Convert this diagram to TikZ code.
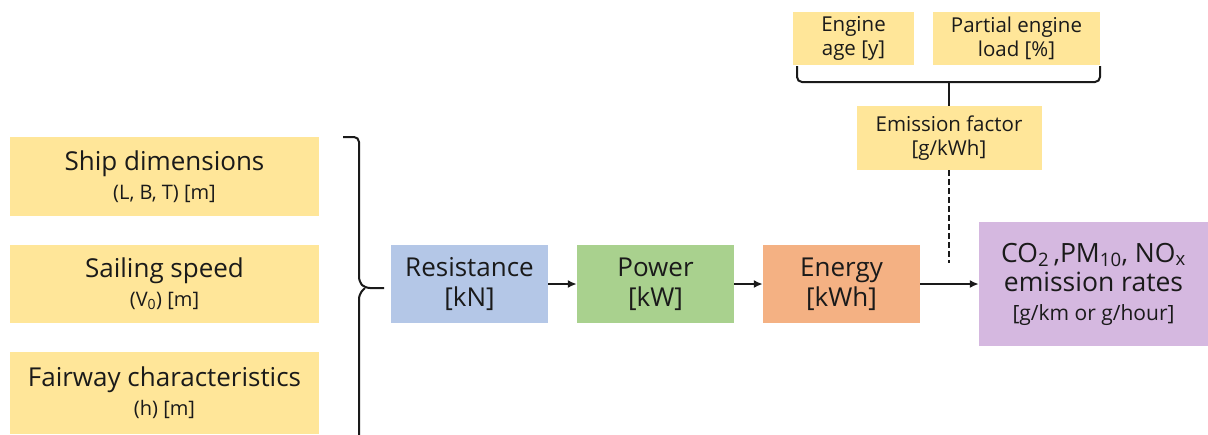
\documentclass[tikz,border=0pt]{standalone}
\usepackage{fontspec}
\setmainfont{Open Sans}
\usetikzlibrary{arrows.meta,positioning,calc}
\definecolor{cInput}{HTML}{FFE699}
\definecolor{cResist}{HTML}{B4C7E7}
\definecolor{cPower}{HTML}{A9D18E}
\definecolor{cEnergy}{HTML}{F4B183}
\definecolor{cEmis}{HTML}{D5B8E0}
\definecolor{cInk}{HTML}{1A1A1A}
\tikzset{
  block/.style={draw=none, align=center, inner sep=2pt, text=cInk},
  input/.style={block, fill=cInput, font=\fontsize{26}{29}\selectfont},
  factor/.style={block, fill=cInput, font=\fontsize{20.5}{24}\selectfont},
  stage/.style={block, font=\fontsize{26}{30}\selectfont, minimum height=78pt},
  flow/.style={-{Latex[length=9pt,width=8pt]}, line width=2pt, draw=cInk},
  bracket/.style={line width=2pt, draw=cInk, rounded corners=5pt},
}
\newcommand{\subtxt}[1]{{\fontsize{20}{23}\selectfont #1}}
\begin{document}
\begin{tikzpicture}[x=1pt, y=-1pt]
  \useasboundingbox (0,0) rectangle (1208,434);
  % inputs on the left
  \node[input, minimum width=309pt, minimum height=79pt] (ship) at (164.5,176.5)
    {Ship dimensions\\\subtxt{(L, B, T) [m]}};
  \node[input, minimum width=309pt, minimum height=78pt] (speed) at (164.5,284)
    {Sailing speed\\\subtxt{(V\textsubscript{0}) [m]}};
  \node[input, minimum width=309pt, minimum height=82pt] (fairway) at (164.5,393)
    {Fairway characteristics\\\subtxt{(h) [m]}};
  % chain of stages
  \node[stage, fill=cResist, minimum width=157pt] (resist) at (469.5,284) {Resistance\\{}[kN]};
  \node[stage, fill=cPower, minimum width=157pt] (power) at (655.5,284) {Power\\{}[kW]};
  \node[stage, fill=cEnergy, minimum width=157pt] (energy) at (841.5,284) {Energy\\{}[kWh]};
  \node[block, fill=cEmis, minimum width=229pt, minimum height=124pt,
    font=\fontsize{26.5}{29}\selectfont] (emis) at (1093.5,284)
    {CO\textsubscript{2}\,,PM\textsubscript{10}, NO\textsubscript{x}\\emission rates\\
     {\fontsize{21}{24}\selectfont [g/km or g/hour]}};
  % emission factor inputs
  \node[factor, minimum width=121pt, minimum height=53pt] (age) at (853.5,38.5) {Engine\\age [y]};
  \node[factor, minimum width=167pt, minimum height=53pt] (load) at (1016.5,38.5) {Partial engine\\load [\%]};
  \node[factor, minimum width=185pt, minimum height=64pt] (fac) at (949,138) {Emission factor\\{}[g/kWh]};
  % brackets
  \coordinate (lbTop) at (343,137);
  \coordinate (lbTip) at (384,288);
  \coordinate (lbEnd) at (359,440);
  \draw[bracket] (lbTop) -- (359,137) -- (359,282) -- (365,288) -- (lbTip);
  \draw[bracket] (lbEnd) -- (359,294) -- (365,288);
  \coordinate (tbMid) at (fac.north |- 0,82);
  \draw[bracket] (797,66) -- (797,82) -- (1100,82) -- (1100,66);
  \draw[line width=2pt, draw=cInk] (tbMid) -- (fac.north);
  % flow
  \draw[flow] (resist) -- (power);
  \draw[flow] (power) -- (energy);
  \draw[flow] (energy) -- (emis);
  \coordinate (dashEnd) at (fac.south |- 0,263);
  \draw[line width=1.6pt, draw=cInk, dash pattern=on 6pt off 3pt] (fac.south) -- (dashEnd);
\end{tikzpicture}
\end{document}
